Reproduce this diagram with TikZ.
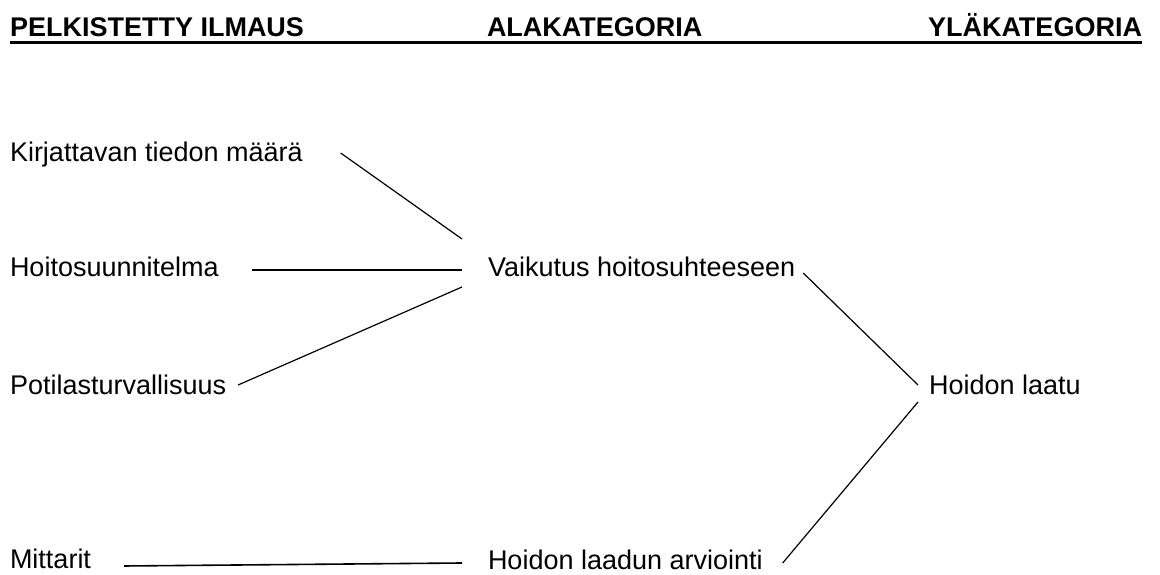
\documentclass[tikz,border=0pt]{standalone}
\usepackage{fontspec}
\setmainfont{Liberation Sans}
\usepackage{tikz}
\usetikzlibrary{positioning,calc}

\begin{document}
\begin{tikzpicture}[x=1pt,y=1pt,line width=1.2pt,
    txt/.style={inner sep=0pt,outer sep=0pt,anchor=base west,font=\fontsize{27}{32}\selectfont},
    head/.style={txt,font=\fontsize{27}{32}\selectfont\bfseries}]
   \useasboundingbox (0,0) rectangle (1160,575);

   % otsikot
   \node[head] (pelk) at (10,538) {PELKISTETTY ILMAUS};
   \node[head] (ala)  at (487,538) {ALAKATEGORIA};
   \node[head] (yla)  at (928,538) {YLÄKATEGORIA};
   \draw[line width=3pt] ($(pelk.base west)+(0,-5.5)$) -- ($(yla.base east)+(0,-5.5)$);

   \node[txt] (maara) at (10,413) {Kirjattavan tiedon määrä};
   \node[txt] (suunn) at (10,298) {Hoitosuunnitelma};
   \node[txt] (turva) at (10,180) {Potilasturvallisuus};
   \node[txt] (mitt)  at (10,6)   {Mittarit};

   \node[txt] (vaik)  at (488,298) {Vaikutus hoitosuhteeseen};
   \node[txt] (arvio) at (488,5)   {Hoidon laadun arviointi};

   \node[txt] (laatu) at (929,180) {Hoidon laatu};

   \draw ($(maara.base east)+(38,9)$) -- ($(vaik.base west)+(-26,38)$);
   \draw ($(suunn.base east)+(33,7)$) -- ($(vaik.base west)+(-26,7)$);
   \draw ($(turva.base east)+(12,10)$) -- ($(vaik.base west)+(-26,-10)$);
   \draw[line width=1.6pt] ($(mitt.base east)+(33,3)$) -- ($(arvio.base west)+(-26,7)$);
   \draw ($(vaik.base east)+(8,4)$) -- ($(laatu.base west)+(-11,10)$);
   \draw ($(laatu.base west)+(-11,-7)$) -- ($(arvio.base east)+(20,7)$);
\end{tikzpicture}
\end{document}
